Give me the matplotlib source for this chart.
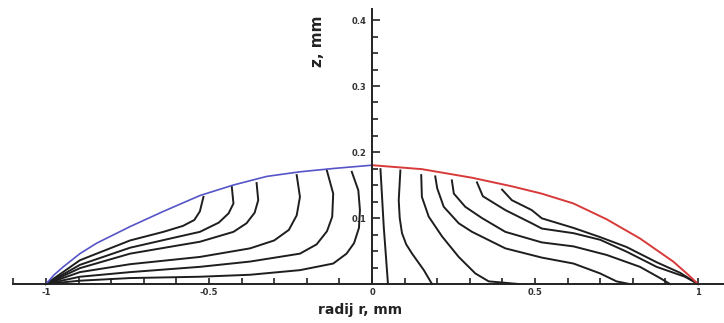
import matplotlib.pyplot as plt
from matplotlib.ticker import MultipleLocator, FixedLocator

# drop profile (left half blue, right half red)
left_r = [-1.0, -0.975, -0.947, -0.896, -0.844, -0.742, -0.64, -0.528, -0.425, -0.323, -0.221, -0.119, 0.0]
left_z = [0.0, 0.014, 0.026, 0.046, 0.062, 0.087, 0.11, 0.134, 0.15, 0.163, 0.170, 0.175, 0.180]
right_r = [0.0, 0.153, 0.307, 0.429, 0.52, 0.618, 0.72, 0.822, 0.924, 0.97, 1.0]
right_z = [0.180, 0.174, 0.161, 0.148, 0.137, 0.122, 0.098, 0.069, 0.034, 0.014, 0.0]

# contour lines, left side
contours_left = [
    ([-1.0, -0.896, -0.742, -0.64, -0.58, -0.545, -0.528, -0.517],
     [0.0, 0.036, 0.066, 0.079, 0.088, 0.097, 0.11, 0.132]),
    ([-1.0, -0.896, -0.742, -0.6, -0.528, -0.47, -0.44, -0.425, -0.43],
     [0.0, 0.029, 0.055, 0.071, 0.079, 0.093, 0.107, 0.122, 0.147]),
    ([-1.0, -0.896, -0.742, -0.6, -0.528, -0.425, -0.385, -0.36, -0.349, -0.354],
     [0.0, 0.024, 0.046, 0.058, 0.064, 0.079, 0.092, 0.108, 0.127, 0.153]),
    ([-1.0, -0.896, -0.742, -0.528, -0.374, -0.3, -0.255, -0.231, -0.221, -0.231],
     [0.0, 0.018, 0.03, 0.041, 0.054, 0.066, 0.082, 0.104, 0.132, 0.165]),
    ([-1.0, -0.896, -0.742, -0.528, -0.374, -0.221, -0.17, -0.138, -0.122, -0.119, -0.139],
     [0.0, 0.011, 0.018, 0.026, 0.034, 0.046, 0.06, 0.08, 0.102, 0.137, 0.173]),
    ([-1.0, -0.896, -0.742, -0.528, -0.374, -0.221, -0.119, -0.078, -0.055, -0.04, -0.037, -0.042, -0.062],
     [0.0, 0.005, 0.009, 0.011, 0.014, 0.021, 0.031, 0.046, 0.062, 0.085, 0.112, 0.142, 0.170]),
]

# contour lines, right side
contours_right = [
    ([0.026, 0.036, 0.049], [0.174, 0.087, 0.0]),
    ([0.087, 0.082, 0.085, 0.092, 0.105, 0.123, 0.159, 0.184],
     [0.172, 0.127, 0.1, 0.077, 0.06, 0.046, 0.021, 0.0]),
    ([0.151, 0.153, 0.174, 0.215, 0.266, 0.317, 0.358, 0.45],
     [0.165, 0.132, 0.102, 0.072, 0.041, 0.016, 0.004, 0.0]),
    ([0.194, 0.2, 0.22, 0.266, 0.307, 0.409, 0.521, 0.618, 0.70, 0.75, 0.79],
     [0.163, 0.145, 0.117, 0.092, 0.079, 0.054, 0.04, 0.031, 0.016, 0.004, 0.0]),
    ([0.245, 0.251, 0.286, 0.337, 0.409, 0.521, 0.618, 0.72, 0.822, 0.88, 0.914],
     [0.157, 0.137, 0.117, 0.1, 0.079, 0.063, 0.057, 0.044, 0.026, 0.01, 0.0]),
    ([0.322, 0.34, 0.409, 0.49, 0.521, 0.618, 0.70, 0.781, 0.873, 0.96, 1.0],
     [0.154, 0.133, 0.112, 0.092, 0.084, 0.077, 0.067, 0.049, 0.026, 0.011, 0.0]),
    ([0.399, 0.429, 0.49, 0.521, 0.618, 0.70, 0.781, 0.873, 0.945, 1.0],
     [0.143, 0.127, 0.112, 0.0995, 0.085, 0.071, 0.056, 0.033, 0.017, 0.0]),
]

x_ticks = [-1, -0.5, 0, 0.5, 1]
x_labels = ["-1", "-0.5", "0", "0.5", "1"]
z_ticks = [0.1, 0.2, 0.3, 0.4]
z_labels = ["0.1", "0.2", "0.3", "0.4"]

fig = plt.figure(figsize=(7.24, 3.23), dpi=100)
ax = fig.add_axes([0, 0, 1, 1])
ax.set_xlim(-372 / 326, 352 / 326)
ax.set_ylim(-39 / 660, 284 / 660)

for r, z in contours_left + contours_right:
    ax.plot(r, z, color="#1e1e1e", lw=1.4)
ax.plot(left_r, left_z, color="#5555c8", lw=1.2)
ax.plot(right_r, right_z, color="#d83a3a", lw=1.4)

for s in ["top", "right"]:
    ax.spines[s].set_visible(False)
ax.spines["left"].set_position(("data", 0))
ax.spines["bottom"].set_position(("data", 0))
ax.spines["left"].set_bounds(0, 0.417)
ax.spines["bottom"].set_bounds(-1.1, 1.08)
for s in ["left", "bottom"]:
    ax.spines[s].set_linewidth(1.4)
    ax.spines[s].set_color("#222222")

ax.xaxis.set_major_locator(FixedLocator(x_ticks))
ax.set_xticklabels(x_labels)
ax.xaxis.set_minor_locator(FixedLocator([i / 10 for i in range(-11, 11)]))
ax.yaxis.set_major_locator(FixedLocator(z_ticks))
ax.set_yticklabels(z_labels)
ax.yaxis.set_minor_locator(FixedLocator([i * 0.025 for i in range(1, 17)]))

ax.tick_params(axis="x", which="both", direction="in", length=4, width=1.2,
               color="#222222", labelsize=6, pad=3, labelcolor="#333333")
ax.tick_params(axis="y", which="major", direction="in", length=6, width=1.2,
               color="#222222", labelsize=6, pad=4, labelcolor="#333333")
ax.tick_params(axis="y", which="minor", direction="in", length=4, width=1.2, color="#222222")
for lbl in ax.get_xticklabels() + ax.get_yticklabels():
    lbl.set_fontweight("bold")

fig.text(360 / 724, 1 - 310 / 323, "radij r, mm", ha="center", va="center",
         fontsize=10, fontweight="bold", color="#222222")
fig.text(317 / 724, 1 - 41 / 323, "z, mm", ha="center", va="center", rotation=90,
         fontsize=11, fontweight="bold", color="#222222")

fig.savefig("out.png", dpi=100)
